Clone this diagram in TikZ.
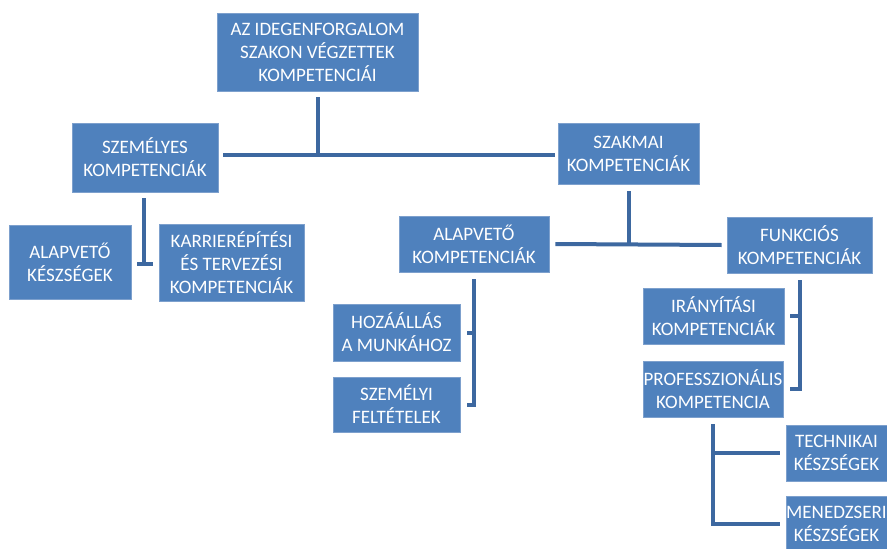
\documentclass[tikz,border=0pt]{standalone}
\usepackage{fontspec}
\setmainfont{Carlito}
\usepackage{tikz}
\definecolor{boxblue}{RGB}{79,129,189}
\definecolor{boxedge}{RGB}{125,160,205}
\definecolor{linkblue}{RGB}{61,104,160}

\begin{document}
\begin{tikzpicture}[x=1pt, y=-1pt,
	box/.style={rectangle, fill=boxblue, draw=boxedge, line width=0.8pt, text=white, align=center,
		inner xsep=1pt, font=\fontsize{19}{23}\selectfont},
	link/.style={draw=linkblue, line width=4pt},]
	\useasboundingbox (0,0) rectangle (887,549);
	% levels
	\node[box, minimum width=201, minimum height=78] (top) at (317.5,52) {AZ IDEGENFORGALOM\\SZAKON VÉGZETTEK\\KOMPETENCIÁI};
	\node[box, minimum width=146, minimum height=69] (szemelyes) at (145,157.5) {SZEMÉLYES\\KOMPETENCIÁK};
	\node[box, minimum width=141, minimum height=61] (szakmai) at (628.5,153.5) {SZAKMAI\\KOMPETENCIÁK};
	\node[box, minimum width=122, minimum height=74] (alapkesz) at (70,262) {ALAPVETŐ\\KÉSZSÉGEK};
	\node[box, minimum width=145, minimum height=77] (karrier) at (231.5,262.5) {KARRIERÉPÍTÉSI\\ÉS TERVEZÉSI\\KOMPETENCIÁK};
	\node[box, minimum width=150, minimum height=56] (alapkomp) at (474,244) {ALAPVETŐ\\KOMPETENCIÁK};
	\node[box, minimum width=145, minimum height=56] (funkcios) at (799.5,245) {FUNKCIÓS\\KOMPETENCIÁK};
	\node[box, minimum width=127, minimum height=57] (hozaallas) at (396.5,332.5) {HOZÁÁLLÁS\\A MUNKÁHOZ};
	\node[box, minimum width=127, minimum height=55] (szemelyi) at (396.5,404.5) {SZEMÉLYI\\FELTÉTELEK};
	\node[box, minimum width=141, minimum height=56] (iranyitasi) at (713.5,316) {IRÁNYÍTÁSI\\KOMPETENCIÁK};
	\node[box, minimum width=140, minimum height=56, inner xsep=0pt] (prof) at (713,389) {PROFESSZIONÁLIS\\KOMPETENCIA};
	\node[box, minimum width=101, minimum height=56] (technikai) at (836.5,453) {TECHNIKAI\\KÉSZSÉGEK};
	\node[box, minimum width=101, minimum height=56, inner xsep=0pt] (menedzseri) at (836.5,524) {MENEDZSERI\\KÉSZSÉGEK};
	% connectors
	\coordinate (j1) at (top.south |- 0,155);
	\draw[link] ([yshift=-6]top.south) -- (j1);
	\draw[link] ([xshift=5]szemelyes.east |- j1) -- ([xshift=-3]szakmai.west |- j1);
	\coordinate (j2) at (144,264);
	\draw[link] ([yshift=-6]szemelyes.south -| j2) -- (j2);
	\draw[link] ([xshift=-7]j2) -- ([xshift=9]j2);
	\draw[link] ([yshift=-7]szakmai.south) -- (szakmai.south |- alapkomp.east);
	\draw[link] ([xshift=6]alapkomp.east) -- ([xshift=-5]funkcios.west);
	\draw[link] ([yshift=-7]alapkomp.south) |- ([xshift=7]szemelyi.east);
	\draw[link] ([xshift=7]hozaallas.east) -- (hozaallas.east -| alapkomp.south);
	\draw[link] ([yshift=-7]funkcios.south) |- ([xshift=7]prof.east);
	\draw[link] ([xshift=6]iranyitasi.east) -- (iranyitasi.east -| funkcios.south);
	\draw[link] ([yshift=-7]prof.south) |- ([xshift=-6]menedzseri.west);
	\draw[link] (prof.south |- technikai.west) -- ([xshift=-6]technikai.west);
\end{tikzpicture}
\end{document}
